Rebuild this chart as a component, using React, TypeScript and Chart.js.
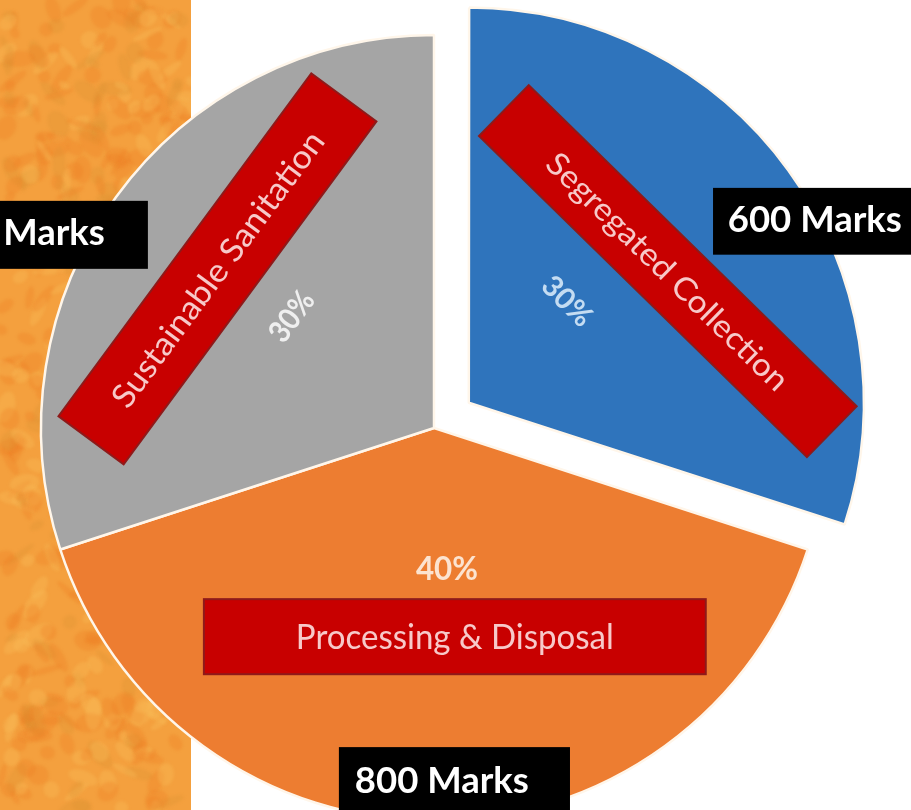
import React, { useEffect, useRef } from "react";
import { Chart, registerables } from "chart.js";

Chart.register(...registerables);

// ---- data ----
const categories = ["Segregated Collection", "Processing & Disposal", "Sustainable Sanitation"];
const shares = [30, 40, 30];
const marks = [600, 800, 600];
const percentLabels = ["30%", "40%", "30%"];

// ---- styles ----
const sliceColors = ["#2F74BC", "#ED7D31", "#A5A5A5"];
const percentColors = ["#C4DCF2", "#FCE3D0", "#EFEFEF"];
const sliceOffsets = [172, 0, 0];

// label layout relative to the pie centre, in units of the outer radius
const nameBoxes = [
  { cx: 0.595, cy: -0.399, len: 1.168, thick: 0.181, rot: 44.4, textLen: 0.827, cap: 0.058 },
  { cx: 0.053, cy: 0.531, len: 1.277, thick: 0.191, rot: 0, textLen: 0.809, cap: 0.064 },
  { cx: -0.551, cy: -0.405, len: 1.084, thick: 0.206, rot: -53.6, textLen: 0.85, cap: 0.06 },
];
const percentPos = [
  { cx: 0.34, cy: -0.324, rot: 45, w: 0.148, cap: 0.054 },
  { cx: 0.033, cy: 0.357, w: 0.158, rot: 0, cap: 0.058 },
  { cx: -0.364, cy: -0.285, rot: -54, w: 0.14, cap: 0.056 },
];
const marksBoxes = [
  { left: 0.71, top: -0.611, w: 0.514, h: 0.17, tx: 0.969, ty: -0.531 },
  { left: -0.242, top: 0.812, w: 0.588, h: 0.186, tx: 0.02, ty: 0.896 },
  { left: -1.257, top: -0.578, w: 0.529, h: 0.173, tx: -1.059, ty: -0.497 },
];
const marksTextW = 0.443;
const marksCap = 0.065;

const FONT = 'Lato, "Open Sans", "Noto Sans", sans-serif';

function drawFitted(
  ctx: CanvasRenderingContext2D,
  text: string,
  x: number,
  y: number,
  width: number,
  cap: number,
  color: string,
  weight: string,
  rotDeg: number
) {
  ctx.save();
  ctx.translate(x, y);
  ctx.rotate((rotDeg * Math.PI) / 180);
  const size = cap / 0.72;
  ctx.font = `${weight} ${size}px ${FONT}`;
  const w = ctx.measureText(text).width || 1;
  ctx.scale(width / w, 1);
  ctx.textAlign = "center";
  ctx.textBaseline = "alphabetic";
  ctx.fillStyle = color;
  ctx.fillText(text, 0, cap / 2);
  ctx.restore();
}

const backgroundPlugin = {
  id: "bgStrip",
  beforeDraw(chart: any) {
    const ctx: CanvasRenderingContext2D = chart.ctx;
    const W = chart.width;
    const H = chart.height;
    ctx.save();
    ctx.fillStyle = "#FFFFFF";
    ctx.fillRect(0, 0, W, H);
    const stripW = 191;
    ctx.fillStyle = "#F4A03E";
    ctx.fillRect(0, 0, stripW, H);
    ctx.beginPath();
    ctx.rect(0, 0, stripW, H);
    ctx.clip();
    // deterministic soft mottled texture
    let s = 98765;
    const rnd = () => {
      s = (s * 1103515245 + 12345) % 2147483648;
      return s / 2147483648;
    };
    ctx.filter = "blur(1.5px)";
    for (let i = 0; i < 520; i++) {
      const x = rnd() * stripW;
      const y = rnd() * H;
      const rx = 5 + rnd() * 12;
      const ry = 3 + rnd() * 7;
      const a = rnd() * Math.PI;
      const t = rnd();
      ctx.fillStyle =
        t < 0.5 ? "rgba(236,122,32,0.28)" : t < 0.8 ? "rgba(250,190,90,0.35)" : "rgba(214,142,48,0.25)";
      ctx.beginPath();
      ctx.ellipse(x, y, rx, ry, a, 0, Math.PI * 2);
      ctx.fill();
    }
    ctx.filter = "none";
    ctx.restore();
  },
};

const labelPlugin = {
  id: "sliceLabels",
  afterDatasetsDraw(chart: any) {
    const ctx: CanvasRenderingContext2D = chart.ctx;
    const meta = chart.getDatasetMeta(0);
    const arc = meta.data[0];
    if (!arc) return;
    const cx = arc.x;
    const cy = arc.y;
    const R = arc.outerRadius;

    // red name boxes
    nameBoxes.forEach((b, i) => {
      ctx.save();
      ctx.translate(cx + b.cx * R, cy + b.cy * R);
      ctx.rotate((b.rot * Math.PI) / 180);
      const L = b.len * R;
      const T = b.thick * R;
      ctx.fillStyle = "#C80000";
      ctx.fillRect(-L / 2, -T / 2, L, T);
      ctx.strokeStyle = "#8E1A1A";
      ctx.lineWidth = 2;
      ctx.strokeRect(-L / 2, -T / 2, L, T);
      ctx.restore();
      drawFitted(ctx, categories[i], cx + b.cx * R, cy + b.cy * R, b.textLen * R, b.cap * R, "#F7C9C9", "400", b.rot);
    });

    // percentages
    percentPos.forEach((p, i) => {
      drawFitted(ctx, percentLabels[i], cx + p.cx * R, cy + p.cy * R, p.w * R, p.cap * R, percentColors[i], "700", p.rot);
    });

    // black marks boxes
    marksBoxes.forEach((m, i) => {
      ctx.save();
      ctx.fillStyle = "#000000";
      ctx.fillRect(cx + m.left * R, cy + m.top * R, m.w * R, m.h * R);
      ctx.restore();
      drawFitted(ctx, `${marks[i]} Marks`, cx + m.tx * R, cy + m.ty * R, marksTextW * R, marksCap * R, "#FFFFFF", "700", 0);
    });
  },
};

export default function App() {
  const canvasRef = useRef<HTMLCanvasElement | null>(null);

  useEffect(() => {
    document.body.style.margin = "0";
    const canvas = canvasRef.current;
    if (!canvas) return;
    const chart = new Chart(canvas, {
      type: "pie",
      data: {
        labels: categories,
        datasets: [
          {
            data: shares,
            backgroundColor: sliceColors,
            borderColor: "#FFF6EA",
            borderWidth: 2.5,
            offset: sliceOffsets,
            radius: 393,
            clip: false,
          } as any,
        ],
      },
      options: {
        animation: false,
        responsive: false,
        events: [],
        layout: { padding: { left: 0, right: 43, top: 46, bottom: 0 } },
        plugins: {
          legend: { display: false },
          tooltip: { enabled: false },
        },
      },
      plugins: [backgroundPlugin, labelPlugin],
    });
    return () => chart.destroy();
  }, []);

  return (
    <div style={{ position: "fixed", left: 0, top: 0, width: 911, height: 810, overflow: "hidden" }}>
      <canvas ref={canvasRef} width={911} height={810} style={{ width: 911, height: 810, display: "block" }} />
    </div>
  );
}
